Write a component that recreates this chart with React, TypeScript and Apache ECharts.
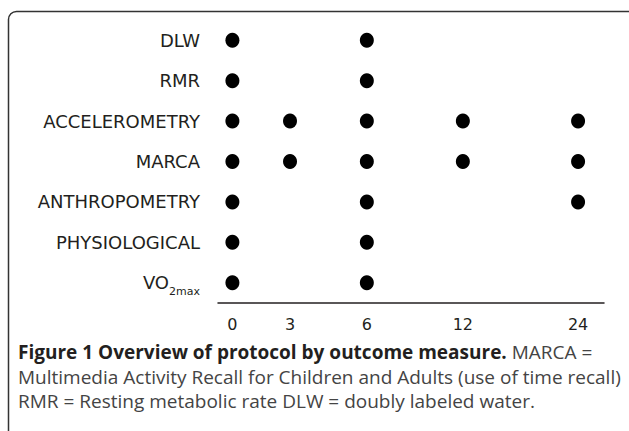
import React, { useEffect, useRef } from 'react';
import * as echarts from 'echarts';

// Outcome measures (rows, top to bottom)
const measures = ['DLW', 'RMR', 'ACCELEROMETRY', 'MARCA', 'ANTHROPOMETRY', 'PHYSIOLOGICAL', 'VO2max'];
// Assessment time points (months)
const timePoints = ['0', '3', '6', '12', '24'];

// Time points at which each measure is collected
const dlwTimes = ['0', '6'];
const rmrTimes = ['0', '6'];
const accelerometryTimes = ['0', '3', '6', '12', '24'];
const marcaTimes = ['0', '3', '6', '12', '24'];
const anthropometryTimes = ['0', '6', '24'];
const physiologicalTimes = ['0', '6'];
const vo2maxTimes = ['0', '6'];

const schedule = [dlwTimes, rmrTimes, accelerometryTimes, marcaTimes, anthropometryTimes, physiologicalTimes, vo2maxTimes];

const captionBold = 'Figure 1 Overview of protocol by outcome measure.';
const captionLines = [
  ' MARCA =',
  'Multimedia Activity Recall for Children and Adults (use of time recall)',
  'RMR = Resting metabolic rate DLW = doubly labeled water.',
];

// axis layout: uneven spacing of the drawn time axis (slot index of each time point)
const axisSlots = [0, 3, 7, 12, 18];

export default function App() {
  const ref = useRef<HTMLDivElement>(null);
  useEffect(() => {
    if (!ref.current) return;
    const chart = echarts.init(ref.current, null, { renderer: 'svg' });
    const slotOf = (t: string) => axisSlots[timePoints.indexOf(t)];
    const data: [number, string][] = [];
    schedule.forEach((times, i) => times.forEach((t) => data.push([slotOf(t), measures[i]])));
    const labelFont = '"DejaVu Sans", sans-serif';
    const capFont = '"Open Sans", sans-serif';
    chart.setOption({
      animation: false,
      backgroundColor: '#fff',
      grid: { left: 218, right: 25, top: 20, height: 283 },
      xAxis: {
        type: 'value',
        min: -0.75,
        max: 19.35,
        axisLine: { show: true, lineStyle: { color: '#231f20', width: 1.5 } },
        axisTick: { show: false },
        splitLine: { show: false },
        axisLabel: {
          customValues: axisSlots,
          formatter: (v: number) => {
            const i = axisSlots.indexOf(Math.round(v));
            return i >= 0 ? timePoints[i] : '';
          },
          color: '#231f20',
          fontSize: 16,
          fontFamily: labelFont,
          margin: 13,
        },
      },
      yAxis: {
        type: 'category',
        data: measures,
        inverse: true,
        axisLine: { show: false },
        axisTick: { show: false },
        splitLine: { show: false },
        axisLabel: {
          margin: 18,
          formatter: (v: string) => (v === 'VO2max' ? '{n|VO}{s|2max}' : '{n|' + v + '}'),
          rich: {
            n: { color: '#231f20', fontSize: 18, fontFamily: labelFont },
            s: { color: '#231f20', fontSize: 11, fontFamily: labelFont, padding: [18, 0, 0, 0] },
          },
        },
      },
      series: [
        {
          type: 'scatter',
          data,
          symbol: 'circle',
          symbolSize: [14, 15],
          itemStyle: { color: '#000', opacity: 1 },
        },
      ],
      graphic: [
        {
          type: 'rect',
          shape: { x: 8.5, y: 11.5, width: 632, height: 520, r: 8 },
          style: { fill: 'none', stroke: '#333', lineWidth: 1.5 },
          silent: true,
        },
        {
          type: 'text',
          x: 18,
          y: 352,
          style: {
            text: '{b|' + captionBold + '}{r|' + captionLines[0] + '}',
            verticalAlign: 'middle',
            rich: {
              b: { fontFamily: capFont, fontWeight: 'bold', fontSize: 19, fill: '#231f20' },
              r: { fontFamily: capFont, fontSize: 19, fill: '#444' },
            },
          },
        },
        {
          type: 'text',
          x: 18,
          y: 377,
          style: { text: captionLines[1], fontFamily: capFont, fontSize: 19, fill: '#444', verticalAlign: 'middle' },
        },
        {
          type: 'text',
          x: 18,
          y: 401,
          style: { text: captionLines[2], fontFamily: capFont, fontSize: 19, fill: '#444', verticalAlign: 'middle' },
        },
      ],
    });
    return () => chart.dispose();
  }, []);
  return <div ref={ref} style={{ position: 'absolute', left: 0, top: 0, width: 629, height: 431 }} />;
}
